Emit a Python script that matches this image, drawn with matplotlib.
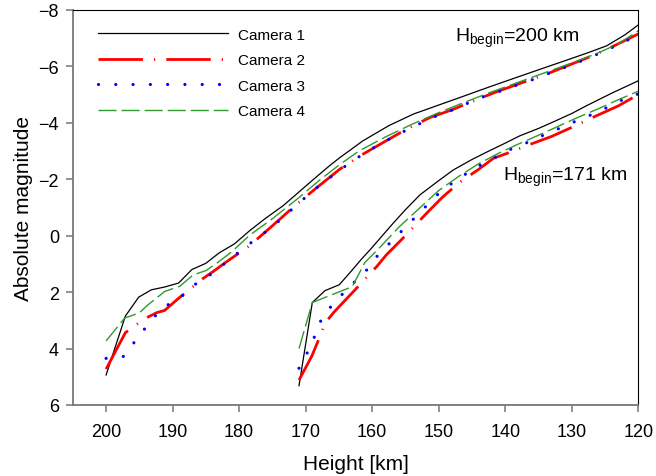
import matplotlib
matplotlib.use("Agg")
import matplotlib.pyplot as plt

plt.rcParams['font.family'] = ['Liberation Sans', 'DejaVu Sans']
plt.rcParams['mathtext.fontset'] = 'custom'
plt.rcParams['mathtext.rm'] = 'Liberation Sans'

# flight with H_begin = 200 km
h1_a = [200, 197.1, 195.1, 193.2, 191.2, 189.1, 187.1, 185, 183, 180.7, 178.4, 176, 173.4, 171,
        168.9, 166.4, 164.9, 161.4, 157.5, 153.8, 150, 146.3, 142.3, 137.8, 134, 130.3, 127.5,
        124.75, 122, 120]
m1_a = [4.94, 2.85, 2.18, 1.92, 1.82, 1.68, 1.2, 0.98, 0.61, 0.29, -0.18, -0.62, -1.06, -1.55,
        -1.98, -2.48, -2.76, -3.36, -3.9, -4.31, -4.63, -4.94, -5.28, -5.65, -5.96, -6.26, -6.49,
        -6.73, -7.12, -7.47]
h2_a = [200, 197.1, 195.6, 194, 192.4, 191.2, 189.2, 185.5, 183.9, 182.1, 178.4, 175, 171.9,
        168.6, 164.85, 161.6, 158, 154.8, 151.3, 148, 145.6, 141.3, 138, 134.3, 130.8, 127.5,
        124.75, 120]
m2_a = [4.73, 3.44, 3.18, 2.92, 2.73, 2.65, 2.24, 1.53, 1.27, 0.96, 0.35, -0.35, -1.0, -1.65,
        -2.36, -2.86, -3.35, -3.78, -4.19, -4.46, -4.70, -5.1, -5.38, -5.68, -6.01, -6.32,
        -6.6, -7.15]
h3_a = [200, 197.4, 195.7, 193.8, 191.6, 189.2, 186.7, 184.1, 181.5, 178.8, 176.4, 173.8, 171.2,
        168.6, 166.0, 163.5, 160.8, 158.3, 155.8, 153.2, 150.6, 147.9, 145.6, 142.9, 140, 137.8,
        135, 132.7, 130, 127.5, 125, 122.35, 120]
m3_a = [4.35, 4.28, 3.76, 3.18, 2.56, 2.27, 1.74, 1.35, 0.86, 0.35, -0.06, -0.56, -1.12, -1.65,
        -2.12, -2.56, -2.98, -3.31, -3.63, -3.93, -4.22, -4.46, -4.70, -4.96, -5.18, -5.38, -5.6,
        -5.83, -6.05, -6.30, -6.55, -6.85, -7.1]
h4_a = [200, 197.2, 195, 193.8, 191.2, 188.9, 186.9, 185, 183.5, 181.2, 178.4, 175, 171, 168, 165,
        162, 158, 154, 150, 146, 142, 138, 134, 130, 126, 123, 120]
m4_a = [3.73, 2.92, 2.74, 2.47, 1.98, 1.79, 1.39, 1.24, 1.0, 0.59, -0.02, -0.6, -1.35, -1.95,
        -2.5, -3.0, -3.5, -3.95, -4.36, -4.74, -5.1, -5.44, -5.78, -6.12, -6.48, -6.8, -7.26]

# flight with H_begin = 171 km
h1_b = [171.0, 169.0, 167.1, 164.95, 163.3, 161.6, 160.2, 157, 155, 152.8, 150, 147.8, 145, 142.8,
        140, 137.8, 135, 132.8, 130, 127.75, 124, 120]
m1_b = [5.32, 2.37, 1.95, 1.74, 1.30, 0.83, 0.47, -0.4, -0.92, -1.45, -1.95, -2.33, -2.7, -2.96,
        -3.28, -3.54, -3.8, -4.03, -4.33, -4.61, -5.05, -5.49]
h2_b = [171.0, 169.1, 167.75, 167.1, 165.7, 162.5, 159.3, 157.9, 155, 152, 149.5, 146.8, 144,
        141.8, 139, 136.8, 133, 129.8, 126.3, 123, 120]
m2_b = [5.12, 4.28, 3.52, 3.10, 2.70, 1.9, 1.09, 0.69, 0.0, -0.75, -1.35, -1.9, -2.35, -2.74,
        -2.98, -3.19, -3.52, -3.86, -4.25, -4.6, -5.0]
h3_b = [171.0, 169.6, 168.5, 167.5, 165.75, 163.5, 161.0, 159.1, 156.5, 154, 151.8, 149.6, 146.9,
        144.4, 141.8, 139.3, 136.6, 134.1, 131.5, 128.9, 126.4, 123.85, 121.2, 120]
m3_b = [4.70, 4.08, 3.49, 2.88, 2.39, 1.83, 1.27, 0.68, 0.06, -0.54, -1.07, -1.59, -2.04, -2.42,
        -2.74, -3.05, -3.31, -3.58, -3.84, -4.11, -4.35, -4.64, -4.96, -5.02]
h4_b = [171.0, 169.0, 165.6, 163.0, 161.1, 159.1, 156, 153, 150, 147, 144, 141, 138, 135, 132,
        129, 126, 123, 120]
m4_b = [4.0, 2.37, 2.05, 1.81, 0.95, 0.48, -0.3, -0.95, -1.6, -2.1, -2.55, -2.92, -3.25, -3.56,
        -3.88, -4.2, -4.5, -4.82, -5.12]

labels = ["Camera 1", "Camera 2", "Camera 3", "Camera 4"]

styles = [
    dict(color="black", lw=0.9, linestyle="-"),
    dict(color="#ff0000", lw=2.0, linestyle=(0, (16, 4, 0.4, 4))),
    dict(color="#0000ff", lw=2.3, linestyle=(0, (0.01, 5.4)), dash_capstyle="round"),
    dict(color="#2e9a2e", lw=1.0, linestyle=(0, (13, 3.6))),
]

fig = plt.figure(figsize=(6.56, 4.77), dpi=100)
ax = fig.add_axes([0.111, 0.149, 0.862, 0.828])

flights_a = [(h1_a, m1_a), (h2_a, m2_a), (h3_a, m3_a), (h4_a, m4_a)]
flights_b = [(h1_b, m1_b), (h2_b, m2_b), (h3_b, m3_b), (h4_b, m4_b)]

for i in range(4):
    ax.plot(flights_a[i][0], flights_a[i][1], label=labels[i], **styles[i])
    ax.plot(flights_b[i][0], flights_b[i][1], **styles[i])

ax.set_xlim(205, 120)
ax.set_ylim(6, -8)
ax.set_xticks([200, 190, 180, 170, 160, 150, 140, 130, 120])
ax.set_yticks([-8, -6, -4, -2, 0, 2, 4, 6])

for s in ["left", "bottom"]:
    ax.spines[s].set_color("#777777")
    ax.spines[s].set_linewidth(1.3)
for s in ["top", "right"]:
    ax.spines[s].set_color("black")
    ax.spines[s].set_linewidth(0.8)
ax.tick_params(axis="both", direction="out", length=5, width=1.1, color="#777777",
               labelsize=13)
ax.tick_params(axis="x", pad=8)
ax.tick_params(axis="y", pad=5)

ax.set_xlabel("Height [km]", fontsize=15, labelpad=10)
ax.set_ylabel("Absolute magnitude", fontsize=15, labelpad=4)

ax.text(147.6, -6.9, r"H$_{\mathregular{begin}}$=200 km", fontsize=14)
ax.text(140.4, -1.97, r"H$_{\mathregular{begin}}$=171 km", fontsize=14)

ax.legend(loc="upper left", frameon=False, fontsize=11, handlelength=8.5,
          handletextpad=0.7, labelspacing=0.75, bbox_to_anchor=(0.02, 0.99))

fig.savefig("out.png", dpi=100)
